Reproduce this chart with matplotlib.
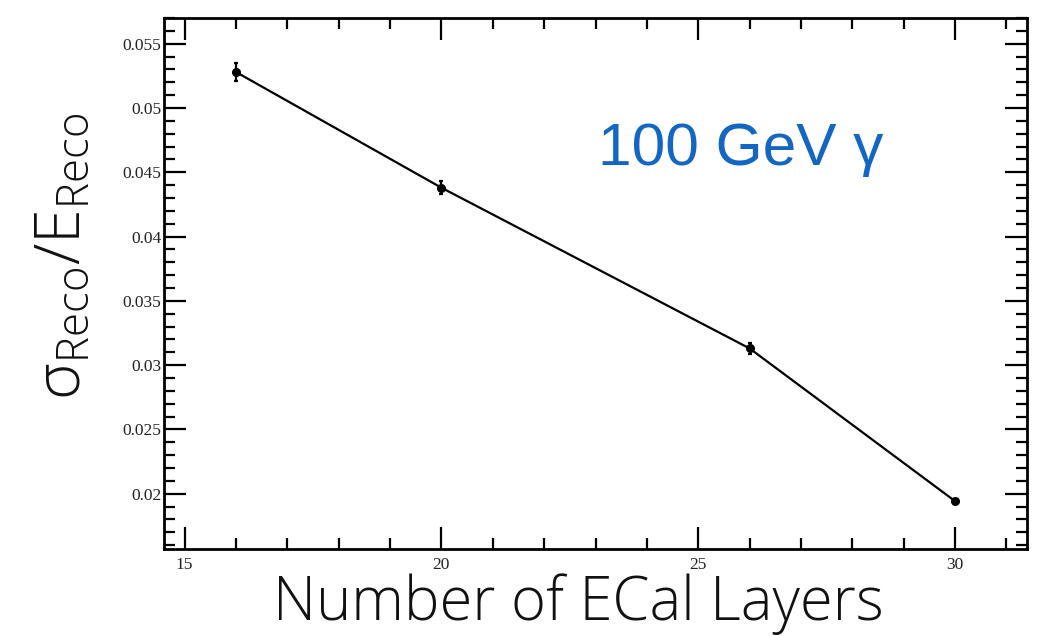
import numpy as np
import matplotlib
matplotlib.use("Agg")
import matplotlib.pyplot as plt
from matplotlib.ticker import MultipleLocator

# Energy resolution vs. number of ECal layers, 100 GeV photons
layers = [16, 20, 26, 30]
resolution = [0.0528, 0.0438, 0.0313, 0.01942]
resolution_err = [0.0007, 0.0005, 0.0004, 0.0001]

x_ticks = [15, 20, 25, 30]
y_ticks = [0.02, 0.025, 0.03, 0.035, 0.04, 0.045, 0.05, 0.055]
y_ticklabels = ["0.02", "0.025", "0.03", "0.035", "0.04", "0.045", "0.05", "0.055"]

light = {"family": "Open Sans", "weight": "light"}
plt.rcParams["mathtext.fontset"] = "custom"
plt.rcParams["mathtext.rm"] = "Open Sans:light"

fig = plt.figure(figsize=(10.4, 6.36), dpi=100)
ax = fig.add_axes([0.1577, 0.1368, 0.9875 - 0.1577, 0.9717 - 0.1368])

ax.plot(layers, resolution, color="black", lw=1.6, zorder=2)
ax.errorbar(layers, resolution, yerr=resolution_err, fmt="o", color="black",
            ms=5.5, elinewidth=1.6, capsize=1.5, capthick=1.6, zorder=3)

ax.set_xlim(14.6, 31.4)
ax.set_ylim(0.0157, 0.0570)

ax.set_xticks(x_ticks)
ax.set_xticklabels([str(t) for t in x_ticks])
ax.xaxis.set_minor_locator(MultipleLocator(1))
ax.set_yticks(y_ticks)
ax.set_yticklabels(y_ticklabels)
ax.yaxis.set_minor_locator(MultipleLocator(0.001))

ax.tick_params(which="both", direction="in", top=True, right=True, width=1.6,
               labelsize=12.5, colors="black", labelcolor="#222222")
ax.tick_params(axis="x", which="major", length=16, pad=6)
ax.tick_params(axis="x", which="minor", length=8)
ax.tick_params(axis="y", which="major", length=16, pad=2)
ax.tick_params(axis="y", which="minor", length=8)
for lab in ax.get_xticklabels() + ax.get_yticklabels():
    lab.set_family("Liberation Serif")
for sp in ax.spines.values():
    sp.set_linewidth(2.0)

fig.text(0.556, 0.025, "Number of ECal Layers", ha="center", va="baseline",
         fontsize=43, color="#111111", **light)
fig.text(0.061, 0.597, r"$\mathregular{\sigma_{Reco}/E_{Reco}}$", rotation=90,
         ha="center", va="center", fontsize=45, color="#111111", **light)

ax.text(0.503, 0.723, "100 GeV γ", transform=ax.transAxes, ha="left", va="baseline",
        fontsize=43.5, color="#1466c3", family="Liberation Sans")

fig.savefig("out.png", dpi=100)
